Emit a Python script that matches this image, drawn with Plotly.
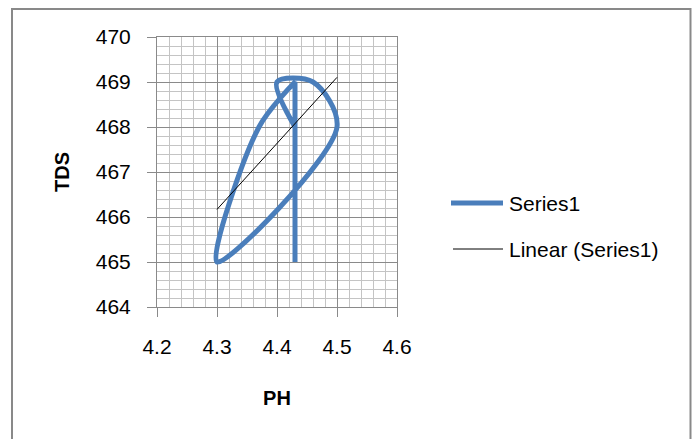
import numpy as np
import plotly.graph_objects as go

# ---- data ----
ph = [4.43, 4.40, 4.46, 4.50, 4.30, 4.37, 4.43, 4.43, 4.43, 4.43]
tds = [468, 469, 469, 468, 465, 468, 469, 469, 469, 465]

x_ticks = [4.2, 4.3, 4.4, 4.5, 4.6]
y_ticks = [464, 465, 466, 467, 468, 469, 470]
series_name = "Series1"
trend_name = "Linear (Series1)"

# linear trend line computed from the series
slope, intercept = np.polyfit(ph, tds, 1)
trend_x = [min(ph), max(ph)]
trend_y = [slope * v + intercept for v in trend_x]

BLUE = "#4a7ebb"
GRID_MAJOR = "#8a8a8a"
GRID_MINOR = "#c4c4c4"
FONT = "Liberation Sans, Arial, sans-serif"

fig = go.Figure()
fig.add_trace(go.Scatter(
    x=ph, y=tds, mode="lines", name=series_name,
    line=dict(color=BLUE, width=5, shape="spline", smoothing=0.9, simplify=False),
    showlegend=False, hoverinfo="skip",
))
fig.add_trace(go.Scatter(
    x=trend_x, y=trend_y, mode="lines", name=trend_name,
    line=dict(color="#000000", width=1),
    showlegend=False, hoverinfo="skip",
))

L, R, T, B = 157, 300, 37, 132
W, H = 697, 439
pw, ph_px = W - L - R, H - T - B


def px_x(p):
    return (p - L) / pw


def px_y(p):
    return (H - B - p) / ph_px


fig.update_layout(
    width=W, height=H,
    margin=dict(l=L, r=R, t=T, b=B, pad=0),
    paper_bgcolor="white", plot_bgcolor="white",
    font=dict(family=FONT, size=21, color="#000000"),
    showlegend=False,
)

fig.update_xaxes(
    range=[4.2, 4.6], tickvals=x_ticks, ticktext=[f"{v:.1f}" for v in x_ticks],
    ticks="outside", ticklen=9, tickcolor=GRID_MAJOR, tickwidth=1,
    showline=True, linecolor=GRID_MAJOR, linewidth=1, mirror=True,
    showgrid=True, gridcolor=GRID_MAJOR, gridwidth=1, zeroline=False,
    minor=dict(dtick=0.02, tick0=4.2, showgrid=True, gridcolor=GRID_MINOR, gridwidth=1, ticks=""),
    ticklabelstandoff=12,
    tickfont=dict(family=FONT, size=21, color="#000000"),
    title=dict(text="<b>PH</b>", font=dict(family=FONT, size=20, color="#000000"), standoff=33),
    automargin=False, fixedrange=True,
)
fig.update_yaxes(
    range=[464, 470], tickvals=y_ticks, ticktext=[str(v) for v in y_ticks],
    ticks="outside", ticklen=9, tickcolor=GRID_MAJOR, tickwidth=1,
    showline=True, linecolor=GRID_MAJOR, linewidth=1, mirror=True,
    showgrid=True, gridcolor=GRID_MAJOR, gridwidth=1, zeroline=False,
    minor=dict(dtick=0.2, tick0=464, showgrid=True, gridcolor=GRID_MINOR, gridwidth=1, ticks=""),
    ticklabelstandoff=12,
    tickfont=dict(family=FONT, size=21, color="#000000"),
    title=dict(text="<b>TDS</b>", font=dict(family=FONT, size=20, color="#000000"), standoff=20),
    automargin=False, fixedrange=True,
)

# chart-area border
fig.add_shape(type="rect", xref="paper", yref="paper",
              x0=px_x(12), x1=px_x(690.5), y0=px_y(470), y1=px_y(9),
              line=dict(color="#898989", width=2), fillcolor="rgba(0,0,0,0)", layer="above")

# legend drawn to match the original's long key lines
fig.add_shape(type="line", xref="paper", yref="paper",
              x0=px_x(451), x1=px_x(503), y0=px_y(203), y1=px_y(203),
              line=dict(color=BLUE, width=5))
fig.add_shape(type="line", xref="paper", yref="paper",
              x0=px_x(453), x1=px_x(503), y0=px_y(249), y1=px_y(249),
              line=dict(color="#000000", width=1))
fig.add_annotation(text=series_name, xref="paper", yref="paper",
                   x=px_x(507), y=px_y(203), xanchor="left", yanchor="middle",
                   showarrow=False, font=dict(family=FONT, size=21, color="#000000"))
fig.add_annotation(text=trend_name, xref="paper", yref="paper",
                   x=px_x(507), y=px_y(249), xanchor="left", yanchor="middle",
                   showarrow=False, font=dict(family=FONT, size=21, color="#000000"))

fig.write_html("out.html")
